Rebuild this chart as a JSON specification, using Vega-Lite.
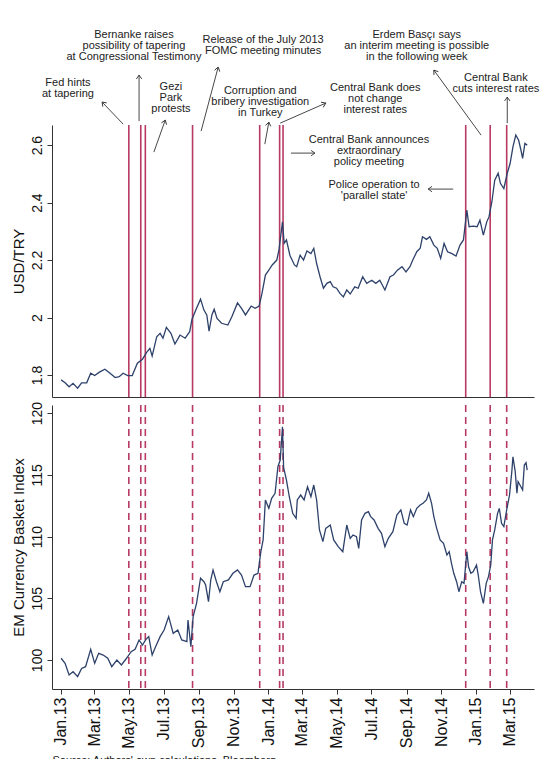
{
  "$schema": "https://vega.github.io/schema/vega-lite/v6.json",
  "padding": {"left": 10, "top": 28, "right": 5, "bottom": 0},
  "background": "white",
  "spacing": 8,
  "bounds": "flush",
  "config": {
    "view": {"stroke": null},
    "font": "Liberation Sans",
    "axis": {
      "grid": false,
      "domainColor": "#333333",
      "tickColor": "#333333",
      "labelColor": "#111111",
      "titleColor": "#111111",
      "labelFont": "Liberation Sans",
      "titleFont": "Liberation Sans",
      "labelFontSize": 14,
      "titleFontSize": 15,
      "titleFontWeight": "normal",
      "tickSize": 5,
      "labelPadding": 3
    },
    "text": {"font": "Liberation Sans"}
  },
  "datasets": {
    "events": [
      {"date": "2013-05-01", "event": "Fed hints at tapering"},
      {"date": "2013-05-22", "event": "Bernanke testimony"},
      {"date": "2013-05-30", "event": "Gezi Park protests"},
      {"date": "2013-08-21", "event": "July 2013 FOMC minutes"},
      {"date": "2013-12-17", "event": "Corruption investigation"},
      {"date": "2014-01-21", "event": "CBRT holds rates"},
      {"date": "2014-01-27", "event": "Extraordinary meeting announced"},
      {"date": "2014-12-14", "event": "Police operation"},
      {"date": "2015-01-26", "event": "Basci interim meeting remark"},
      {"date": "2015-02-24", "event": "CBRT rate cut"}
    ],
    "usdtry": [
      {"date": "2013-01-02", "rate": 1.783}, {"date": "2013-01-09", "rate": 1.773},
      {"date": "2013-01-16", "rate": 1.759}, {"date": "2013-01-23", "rate": 1.771},
      {"date": "2013-01-31", "rate": 1.754}, {"date": "2013-02-07", "rate": 1.773},
      {"date": "2013-02-16", "rate": 1.773}, {"date": "2013-02-23", "rate": 1.806},
      {"date": "2013-03-02", "rate": 1.798}, {"date": "2013-03-11", "rate": 1.811},
      {"date": "2013-03-20", "rate": 1.820}, {"date": "2013-03-29", "rate": 1.806},
      {"date": "2013-04-07", "rate": 1.791}, {"date": "2013-04-14", "rate": 1.794},
      {"date": "2013-04-21", "rate": 1.806}, {"date": "2013-04-29", "rate": 1.798},
      {"date": "2013-05-07", "rate": 1.798}, {"date": "2013-05-16", "rate": 1.841},
      {"date": "2013-05-25", "rate": 1.855}, {"date": "2013-06-01", "rate": 1.878},
      {"date": "2013-06-07", "rate": 1.893}, {"date": "2013-06-11", "rate": 1.866},
      {"date": "2013-06-19", "rate": 1.933}, {"date": "2013-06-25", "rate": 1.945},
      {"date": "2013-06-30", "rate": 1.928}, {"date": "2013-07-06", "rate": 1.966},
      {"date": "2013-07-14", "rate": 1.945}, {"date": "2013-07-21", "rate": 1.908},
      {"date": "2013-07-30", "rate": 1.939}, {"date": "2013-08-08", "rate": 1.928},
      {"date": "2013-08-16", "rate": 1.951}, {"date": "2013-08-20", "rate": 1.994},
      {"date": "2013-08-28", "rate": 2.032}, {"date": "2013-09-04", "rate": 2.064},
      {"date": "2013-09-10", "rate": 2.026}, {"date": "2013-09-15", "rate": 2.009},
      {"date": "2013-09-19", "rate": 1.953}, {"date": "2013-09-24", "rate": 2.009},
      {"date": "2013-09-28", "rate": 2.029}, {"date": "2013-10-03", "rate": 1.997},
      {"date": "2013-10-11", "rate": 1.980}, {"date": "2013-10-22", "rate": 1.974},
      {"date": "2013-10-29", "rate": 2.003}, {"date": "2013-11-08", "rate": 2.051},
      {"date": "2013-11-15", "rate": 2.032}, {"date": "2013-11-22", "rate": 2.009},
      {"date": "2013-12-02", "rate": 2.040}, {"date": "2013-12-09", "rate": 2.032},
      {"date": "2013-12-16", "rate": 2.040}, {"date": "2013-12-21", "rate": 2.084},
      {"date": "2013-12-27", "rate": 2.148}, {"date": "2014-01-02", "rate": 2.165},
      {"date": "2014-01-08", "rate": 2.183}, {"date": "2014-01-16", "rate": 2.200},
      {"date": "2014-01-20", "rate": 2.237}, {"date": "2014-01-26", "rate": 2.333},
      {"date": "2014-01-29", "rate": 2.258}, {"date": "2014-02-02", "rate": 2.270},
      {"date": "2014-02-08", "rate": 2.217}, {"date": "2014-02-16", "rate": 2.183},
      {"date": "2014-02-20", "rate": 2.177}, {"date": "2014-02-26", "rate": 2.217},
      {"date": "2014-03-04", "rate": 2.200}, {"date": "2014-03-10", "rate": 2.232},
      {"date": "2014-03-17", "rate": 2.223}, {"date": "2014-03-22", "rate": 2.241},
      {"date": "2014-03-27", "rate": 2.188}, {"date": "2014-04-02", "rate": 2.142},
      {"date": "2014-04-08", "rate": 2.102}, {"date": "2014-04-14", "rate": 2.119},
      {"date": "2014-04-20", "rate": 2.125}, {"date": "2014-04-25", "rate": 2.107},
      {"date": "2014-05-01", "rate": 2.102}, {"date": "2014-05-07", "rate": 2.084},
      {"date": "2014-05-13", "rate": 2.072}, {"date": "2014-05-19", "rate": 2.096},
      {"date": "2014-05-25", "rate": 2.082}, {"date": "2014-06-02", "rate": 2.107},
      {"date": "2014-06-08", "rate": 2.102}, {"date": "2014-06-16", "rate": 2.142},
      {"date": "2014-06-23", "rate": 2.119}, {"date": "2014-07-02", "rate": 2.130},
      {"date": "2014-07-09", "rate": 2.119}, {"date": "2014-07-16", "rate": 2.130},
      {"date": "2014-07-25", "rate": 2.096}, {"date": "2014-08-03", "rate": 2.142},
      {"date": "2014-08-09", "rate": 2.148}, {"date": "2014-08-16", "rate": 2.165},
      {"date": "2014-08-24", "rate": 2.177}, {"date": "2014-08-31", "rate": 2.159},
      {"date": "2014-09-07", "rate": 2.177}, {"date": "2014-09-12", "rate": 2.200},
      {"date": "2014-09-19", "rate": 2.229}, {"date": "2014-09-25", "rate": 2.241},
      {"date": "2014-09-29", "rate": 2.281}, {"date": "2014-10-06", "rate": 2.272},
      {"date": "2014-10-12", "rate": 2.281}, {"date": "2014-10-19", "rate": 2.252},
      {"date": "2014-10-25", "rate": 2.241}, {"date": "2014-10-31", "rate": 2.206},
      {"date": "2014-11-06", "rate": 2.258}, {"date": "2014-11-12", "rate": 2.229},
      {"date": "2014-11-19", "rate": 2.223}, {"date": "2014-11-27", "rate": 2.214},
      {"date": "2014-12-04", "rate": 2.252}, {"date": "2014-12-10", "rate": 2.270},
      {"date": "2014-12-16", "rate": 2.374}, {"date": "2014-12-20", "rate": 2.316},
      {"date": "2014-12-27", "rate": 2.318}, {"date": "2015-01-03", "rate": 2.316},
      {"date": "2015-01-08", "rate": 2.339}, {"date": "2015-01-14", "rate": 2.287},
      {"date": "2015-01-20", "rate": 2.333}, {"date": "2015-01-24", "rate": 2.351},
      {"date": "2015-01-29", "rate": 2.403}, {"date": "2015-02-03", "rate": 2.478},
      {"date": "2015-02-09", "rate": 2.502}, {"date": "2015-02-13", "rate": 2.467},
      {"date": "2015-02-19", "rate": 2.449}, {"date": "2015-02-25", "rate": 2.502},
      {"date": "2015-03-02", "rate": 2.536}, {"date": "2015-03-07", "rate": 2.594},
      {"date": "2015-03-12", "rate": 2.635}, {"date": "2015-03-17", "rate": 2.617},
      {"date": "2015-03-21", "rate": 2.583}, {"date": "2015-03-24", "rate": 2.554},
      {"date": "2015-03-28", "rate": 2.606}, {"date": "2015-04-01", "rate": 2.600}
    ],
    "embasket": [
      {"date": "2013-01-02", "index": 100.14}, {"date": "2013-01-09", "index": 99.73},
      {"date": "2013-01-16", "index": 98.79}, {"date": "2013-01-23", "index": 99.05},
      {"date": "2013-01-31", "index": 98.65}, {"date": "2013-02-07", "index": 99.32},
      {"date": "2013-02-14", "index": 99.46}, {"date": "2013-02-23", "index": 100.87},
      {"date": "2013-03-02", "index": 99.73}, {"date": "2013-03-09", "index": 100.54},
      {"date": "2013-03-17", "index": 100.40}, {"date": "2013-03-25", "index": 100.14},
      {"date": "2013-04-01", "index": 99.46}, {"date": "2013-04-10", "index": 100.00},
      {"date": "2013-04-18", "index": 99.60}, {"date": "2013-04-27", "index": 100.14},
      {"date": "2013-05-05", "index": 100.67}, {"date": "2013-05-12", "index": 100.87},
      {"date": "2013-05-19", "index": 101.62}, {"date": "2013-05-25", "index": 101.21},
      {"date": "2013-05-31", "index": 101.67}, {"date": "2013-06-05", "index": 101.89},
      {"date": "2013-06-11", "index": 100.40}, {"date": "2013-06-17", "index": 101.08},
      {"date": "2013-06-25", "index": 101.89}, {"date": "2013-07-02", "index": 102.43},
      {"date": "2013-07-10", "index": 103.51}, {"date": "2013-07-18", "index": 102.16},
      {"date": "2013-07-26", "index": 102.43}, {"date": "2013-08-02", "index": 101.62},
      {"date": "2013-08-11", "index": 101.48}, {"date": "2013-08-13", "index": 103.24},
      {"date": "2013-08-18", "index": 101.08}, {"date": "2013-08-22", "index": 103.51},
      {"date": "2013-08-28", "index": 104.59}, {"date": "2013-09-04", "index": 106.62},
      {"date": "2013-09-10", "index": 106.34}, {"date": "2013-09-13", "index": 106.07},
      {"date": "2013-09-18", "index": 104.72}, {"date": "2013-09-22", "index": 106.48},
      {"date": "2013-09-26", "index": 107.29}, {"date": "2013-10-02", "index": 106.34},
      {"date": "2013-10-08", "index": 105.53}, {"date": "2013-10-14", "index": 106.34},
      {"date": "2013-10-23", "index": 106.48}, {"date": "2013-10-31", "index": 107.02},
      {"date": "2013-11-08", "index": 107.29}, {"date": "2013-11-15", "index": 106.88},
      {"date": "2013-11-22", "index": 105.94}, {"date": "2013-11-30", "index": 105.94},
      {"date": "2013-12-07", "index": 106.88}, {"date": "2013-12-14", "index": 107.02},
      {"date": "2013-12-19", "index": 108.77}, {"date": "2013-12-23", "index": 109.72},
      {"date": "2013-12-27", "index": 112.96}, {"date": "2014-01-02", "index": 112.28},
      {"date": "2014-01-07", "index": 113.09}, {"date": "2014-01-13", "index": 113.50},
      {"date": "2014-01-18", "index": 115.65}, {"date": "2014-01-22", "index": 116.19},
      {"date": "2014-01-26", "index": 118.89}, {"date": "2014-01-28", "index": 115.60},
      {"date": "2014-02-02", "index": 114.57}, {"date": "2014-02-07", "index": 113.22},
      {"date": "2014-02-13", "index": 111.88}, {"date": "2014-02-19", "index": 111.47},
      {"date": "2014-02-21", "index": 112.96}, {"date": "2014-02-27", "index": 113.36},
      {"date": "2014-03-05", "index": 112.96}, {"date": "2014-03-11", "index": 114.03},
      {"date": "2014-03-17", "index": 113.22}, {"date": "2014-03-22", "index": 114.17},
      {"date": "2014-03-27", "index": 112.96}, {"date": "2014-04-01", "index": 110.53},
      {"date": "2014-04-07", "index": 109.58}, {"date": "2014-04-12", "index": 110.66},
      {"date": "2014-04-20", "index": 110.93}, {"date": "2014-04-26", "index": 109.72},
      {"date": "2014-05-04", "index": 109.18}, {"date": "2014-05-12", "index": 108.77},
      {"date": "2014-05-19", "index": 110.93}, {"date": "2014-05-25", "index": 109.85},
      {"date": "2014-05-30", "index": 110.12}, {"date": "2014-06-05", "index": 109.98},
      {"date": "2014-06-09", "index": 109.04}, {"date": "2014-06-14", "index": 111.34},
      {"date": "2014-06-20", "index": 111.88}, {"date": "2014-06-26", "index": 112.01},
      {"date": "2014-06-30", "index": 111.61}, {"date": "2014-07-06", "index": 111.34},
      {"date": "2014-07-13", "index": 110.66}, {"date": "2014-07-19", "index": 110.26},
      {"date": "2014-07-25", "index": 109.18}, {"date": "2014-07-31", "index": 109.85},
      {"date": "2014-08-08", "index": 110.39}, {"date": "2014-08-15", "index": 111.74},
      {"date": "2014-08-22", "index": 112.15}, {"date": "2014-08-28", "index": 111.07},
      {"date": "2014-09-02", "index": 110.93}, {"date": "2014-09-08", "index": 112.15},
      {"date": "2014-09-13", "index": 111.61}, {"date": "2014-09-19", "index": 112.28},
      {"date": "2014-09-25", "index": 112.55}, {"date": "2014-09-30", "index": 112.69},
      {"date": "2014-10-06", "index": 112.96}, {"date": "2014-10-10", "index": 113.50},
      {"date": "2014-10-15", "index": 112.69}, {"date": "2014-10-19", "index": 111.61},
      {"date": "2014-10-24", "index": 110.66}, {"date": "2014-10-30", "index": 109.72},
      {"date": "2014-11-05", "index": 109.45}, {"date": "2014-11-11", "index": 108.50},
      {"date": "2014-11-15", "index": 108.77}, {"date": "2014-11-19", "index": 107.83},
      {"date": "2014-11-23", "index": 107.02}, {"date": "2014-11-28", "index": 106.34},
      {"date": "2014-12-02", "index": 105.53}, {"date": "2014-12-07", "index": 106.34},
      {"date": "2014-12-11", "index": 106.21}, {"date": "2014-12-16", "index": 108.77},
      {"date": "2014-12-19", "index": 107.55}, {"date": "2014-12-23", "index": 107.02},
      {"date": "2014-12-27", "index": 107.15}, {"date": "2015-01-02", "index": 107.69},
      {"date": "2015-01-05", "index": 106.88}, {"date": "2015-01-09", "index": 105.53},
      {"date": "2015-01-14", "index": 104.59}, {"date": "2015-01-19", "index": 106.21},
      {"date": "2015-01-23", "index": 106.75}, {"date": "2015-01-27", "index": 107.69},
      {"date": "2015-01-30", "index": 109.72}, {"date": "2015-02-03", "index": 110.53},
      {"date": "2015-02-08", "index": 111.88}, {"date": "2015-02-11", "index": 112.28},
      {"date": "2015-02-15", "index": 111.07}, {"date": "2015-02-19", "index": 110.80},
      {"date": "2015-02-24", "index": 112.15}, {"date": "2015-03-01", "index": 113.36},
      {"date": "2015-03-05", "index": 115.25}, {"date": "2015-03-07", "index": 116.46},
      {"date": "2015-03-11", "index": 115.25}, {"date": "2015-03-14", "index": 113.50},
      {"date": "2015-03-16", "index": 114.45}, {"date": "2015-03-21", "index": 114.03},
      {"date": "2015-03-24", "index": 113.77}, {"date": "2015-03-27", "index": 115.79},
      {"date": "2015-03-30", "index": 115.98}, {"date": "2015-04-01", "index": 115.38}
    ],
    "notes": [
      {"date": "2013-01-14", "level": 2.838, "label": ["Fed hints", "at tapering"]},
      {"date": "2013-05-10", "level": 3.005, "label": ["Bernanke raises", "possibility of tapering", "at Congressional Testimony"]},
      {"date": "2013-07-14", "level": 2.824, "label": ["Gezi", "Park", "protests"]},
      {"date": "2013-12-23", "level": 2.988, "label": ["Release of the July 2013", "FOMC meeting minutes"]},
      {"date": "2013-12-18", "level": 2.810, "label": ["Corruption and", "bribery investigation", "in Turkey"]},
      {"date": "2014-07-08", "level": 2.821, "label": ["Central Bank does", "not change", "interest rates"]},
      {"date": "2014-06-27", "level": 2.640, "label": ["Central Bank announces", "extraordinary", "policy meeting"]},
      {"date": "2014-07-06", "level": 2.4835, "label": ["Police operation to", "'parallel state'"]},
      {"date": "2014-09-19", "level": 3.005, "label": ["Erdem Basçı says", "an interim meeting is possible", "in the following week"]},
      {"date": "2015-02-05", "level": 2.856, "label": ["Central Bank", "cuts interest rates"]}
    ],
    "pointers": [
      {"date": "2013-03-15", "level": 2.750, "date0": "2013-04-21", "level0": 2.673, "heading": -44},
      {"date": "2013-05-19", "level": 2.8435, "date0": "2013-05-19", "level0": 2.6835, "heading": 0},
      {"date": "2013-07-04", "level": 2.687, "date0": "2013-06-14", "level0": 2.5757, "heading": 19},
      {"date": "2013-10-05", "level": 2.8713, "date0": "2013-09-05", "level0": 2.6487, "heading": 15},
      {"date": "2014-01-02", "level": 2.680, "date0": "2013-12-26", "level0": 2.6035, "heading": 10},
      {"date": "2014-04-12", "level": 2.7461, "date0": "2014-01-22", "level0": 2.6765, "heading": 66},
      {"date": "2014-03-24", "level": 2.5722, "date0": "2014-02-10", "level0": 2.5722, "heading": 90},
      {"date": "2014-10-09", "level": 2.447, "date0": "2014-11-22", "level0": 2.447, "heading": -90},
      {"date": "2014-10-19", "level": 2.8609, "date0": "2015-01-10", "level0": 2.6348, "heading": -36},
      {"date": "2015-02-25", "level": 2.767, "date0": "2015-02-25", "level0": 2.6765, "heading": 0}
    ]
  },
  "vconcat": [
    {
      "width": 482,
      "height": 272,
      "encoding": {
        "x": {
          "field": "date", "type": "temporal",
          "scale": {"type": "utc", "domain": [{"year": 2012, "month": 12, "date": 17, "utc": true}, {"year": 2015, "month": 4, "date": 13, "utc": true}]},
          "axis": {"labels": false, "ticks": false, "title": null, "domain": true}
        }
      },
      "layer": [
        {
          "data": {"name": "events"},
          "mark": {"type": "rule", "color": "#b83a62", "strokeWidth": 1.6},
          "encoding": {}
        },
        {
          "data": {"name": "usdtry"},
          "mark": {"type": "line", "color": "#2d416a", "strokeWidth": 1.3},
          "encoding": {
            "y": {
              "field": "rate", "type": "quantitative",
              "scale": {"domain": [1.7235, 2.67], "nice": false, "zero": false},
              "axis": {"title": "USD/TRY", "values": [1.8, 2.0, 2.2, 2.4, 2.6], "format": "~g", "labelAngle": -90, "labelAlign": "center", "labelBaseline": "bottom", "titlePadding": 4}
            }
          }
        },
        {
          "data": {"name": "notes"},
          "mark": {"type": "text", "fontSize": 11, "lineHeight": 11, "align": "center", "baseline": "top", "color": "#222222"},
          "encoding": {
            "y": {
              "field": "level", "type": "quantitative",
              "scale": {"domain": [1.7235, 2.67], "nice": false, "zero": false},
              "axis": {"title": "USD/TRY", "values": [1.8, 2.0, 2.2, 2.4, 2.6], "format": "~g", "labelAngle": -90, "labelAlign": "center", "labelBaseline": "bottom", "titlePadding": 4}
            },
            "text": {"field": "label"}
          }
        },
        {
          "data": {"name": "pointers"},
          "mark": {"type": "rule", "color": "#333333", "strokeWidth": 0.9},
          "encoding": {
            "y": {
              "field": "level", "type": "quantitative",
              "scale": {"domain": [1.7235, 2.67], "nice": false, "zero": false},
              "axis": {"title": "USD/TRY", "values": [1.8, 2.0, 2.2, 2.4, 2.6], "format": "~g", "labelAngle": -90, "labelAlign": "center", "labelBaseline": "bottom", "titlePadding": 4}
            },
            "x2": {"field": "date0"},
            "y2": {"field": "level0"}
          }
        },
        {
          "data": {"name": "pointers"},
          "mark": {"type": "point", "shape": "M -0.7 1 L 0 0 L 0.7 1", "filled": false, "stroke": "#333333", "strokeWidth": 0.9, "opacity": 1, "size": 60},
          "encoding": {
            "y": {
              "field": "level", "type": "quantitative",
              "scale": {"domain": [1.7235, 2.67], "nice": false, "zero": false},
              "axis": {"title": "USD/TRY", "values": [1.8, 2.0, 2.2, 2.4, 2.6], "format": "~g", "labelAngle": -90, "labelAlign": "center", "labelBaseline": "bottom", "titlePadding": 4}
            },
            "angle": {"field": "heading", "type": "quantitative", "scale": null}
          }
        }
      ]
    },
    {
      "width": 482,
      "height": 284,
      "encoding": {
        "x": {
          "field": "date", "type": "temporal",
          "scale": {"type": "utc", "domain": [{"year": 2012, "month": 12, "date": 17, "utc": true}, {"year": 2015, "month": 4, "date": 13, "utc": true}]},
          "axis": {
            "title": "Source: Authors' own calculations, Bloomberg",
            "titleFontSize": 11,
            "titleAnchor": "start",
            "titleAlign": "left",
            "titlePadding": 6,
            "format": "%b.%y",
            "labelAngle": -90,
            "labelAlign": "right",
            "labelBaseline": "middle",
            "labelFontSize": 16,
            "labelFlush": false,
            "labelOverlap": false,
            "values": [
              {"year": 2013, "month": 1, "date": 1, "utc": true},
              {"year": 2013, "month": 3, "date": 1, "utc": true},
              {"year": 2013, "month": 5, "date": 1, "utc": true},
              {"year": 2013, "month": 7, "date": 1, "utc": true},
              {"year": 2013, "month": 9, "date": 1, "utc": true},
              {"year": 2013, "month": 11, "date": 1, "utc": true},
              {"year": 2014, "month": 1, "date": 1, "utc": true},
              {"year": 2014, "month": 3, "date": 1, "utc": true},
              {"year": 2014, "month": 5, "date": 1, "utc": true},
              {"year": 2014, "month": 7, "date": 1, "utc": true},
              {"year": 2014, "month": 9, "date": 1, "utc": true},
              {"year": 2014, "month": 11, "date": 1, "utc": true},
              {"year": 2015, "month": 1, "date": 1, "utc": true},
              {"year": 2015, "month": 3, "date": 1, "utc": true}
            ]
          }
        }
      },
      "layer": [
        {
          "data": {"name": "events"},
          "mark": {"type": "rule", "color": "#b83a62", "strokeWidth": 1.6, "strokeDash": [7, 5]},
          "encoding": {}
        },
        {
          "data": {"name": "embasket"},
          "mark": {"type": "line", "color": "#2d416a", "strokeWidth": 1.3},
          "encoding": {
            "y": {
              "field": "index", "type": "quantitative",
              "scale": {"domain": [97.65, 120.65], "nice": false, "zero": false},
              "axis": {"title": "EM Currency Basket Index", "values": [100, 105, 110, 115, 120], "labelAngle": -90, "labelAlign": "center", "labelBaseline": "bottom", "titlePadding": 4}
            }
          }
        }
      ]
    }
  ]
}
